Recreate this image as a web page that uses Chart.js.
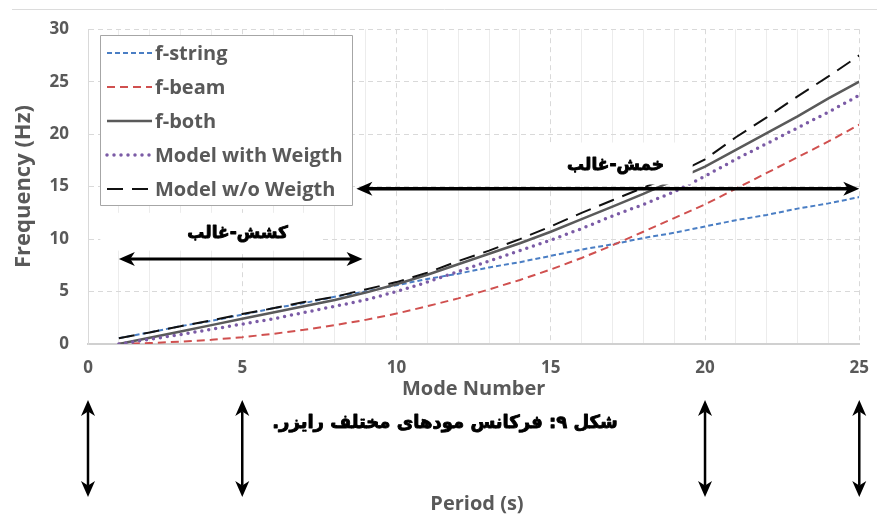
<!DOCTYPE html>
<html>
<head>
<meta charset="utf-8">
<script src="https://cdn.jsdelivr.net/npm/chart.js@4.4.1/dist/chart.umd.min.js"></script>
<style>
  html, body { margin: 0; padding: 0; background: #fff; }
</style>
</head>
<body>
<canvas id="chart" width="883" height="517"></canvas>
<script>
// mode numbers and frequencies (Hz)
const modes = [1, 2, 3, 4, 5, 6, 7, 8, 9, 10, 11, 12, 13, 14, 15, 16, 17, 18, 19, 20, 21, 22, 23, 24, 25];
const fString = [0.56, 1.1, 1.7, 2.2, 2.8, 3.4, 3.9, 4.5, 5.0, 5.6, 6.2, 6.7, 7.3, 7.8, 8.4, 9.0, 9.5, 10.1, 10.6, 11.2, 11.8, 12.3, 12.9, 13.4, 14.0];
const fBeam = [0.02, 0.09, 0.22, 0.4, 0.65, 0.97, 1.35, 1.8, 2.3, 2.9, 3.6, 4.35, 5.2, 6.1, 7.1, 8.2, 9.4, 10.7, 12.0, 13.3, 14.8, 16.3, 17.8, 19.3, 20.9];
const fBoth = [0, 0.6, 1.2, 1.8, 2.4, 3.0, 3.6, 4.2, 4.9, 5.7, 6.6, 7.6, 8.6, 9.6, 10.7, 11.9, 13.1, 14.3, 15.6, 16.9, 18.5, 20.1, 21.7, 23.4, 25.0];
const modelWith = [0, 0.45, 0.9, 1.4, 1.9, 2.4, 3.0, 3.6, 4.2, 5.0, 5.9, 6.9, 7.9, 8.9, 9.9, 11.0, 12.2, 13.3, 14.5, 16.0, 17.6, 19.1, 20.6, 22.1, 23.7];
const modelWithout = [0.55, 1.1, 1.7, 2.25, 2.85, 3.4, 4.0, 4.5, 5.2, 5.9, 6.8, 7.9, 8.9, 10.0, 11.2, 12.5, 13.7, 14.9, 16.1, 17.6, 19.7, 21.6, 23.6, 25.5, 27.5];

const seriesNames = ['f-string', 'f-beam', 'f-both', 'Model with Weigth', 'Model w/o Weigth'];
const xTicks = [0, 5, 10, 15, 20, 25];
const yTicks = [0, 5, 10, 15, 20, 25, 30];

// annotations (in data units)
const tensionLabel = 'کشش-غالب';
const bendingLabel = 'خمش-غالب';
const caption = 'شکل ۹: فرکانس مودهای مختلف رایزر.';
const periodTitle = 'Period (s)';
const periodMarks = [0, 5, 20, 25];

const toPoints = vals => modes.map((m, i) => ({ x: m, y: vals[i] }));

const TEXT = '#595959';
const FONT = '"Open Sans"';
const PERSIAN = '"DejaVu Sans", sans-serif';

function arrowHead(ctx, x, y, ang, len, half) {
  ctx.save();
  ctx.translate(x, y);
  ctx.rotate(ang);
  ctx.beginPath();
  ctx.moveTo(0, 0);
  ctx.lineTo(-len, -half);
  ctx.lineTo(-len * 0.72, 0);
  ctx.lineTo(-len, half);
  ctx.closePath();
  ctx.fill();
  ctx.restore();
}

function doubleArrow(ctx, x1, y1, x2, y2, lw) {
  const ang = Math.atan2(y2 - y1, x2 - x1);
  const len = 16, half = 7;
  const dx = Math.cos(ang) * len * 0.7, dy = Math.sin(ang) * len * 0.7;
  ctx.lineWidth = lw;
  ctx.beginPath();
  ctx.moveTo(x1 + dx, y1 + dy);
  ctx.lineTo(x2 - dx, y2 - dy);
  ctx.stroke();
  arrowHead(ctx, x2, y2, ang, len, half);
  arrowHead(ctx, x1, y1, ang + Math.PI, len, half);
}

// heavy persian text: fill plus a thin stroke
function boldText(ctx, text, x, y) {
  ctx.lineWidth = 0.9;
  ctx.lineJoin = 'round';
  ctx.fillText(text, x, y);
  ctx.strokeText(text, x, y);
}

const overlay = {
  id: 'overlay',
  afterDatasetsDraw(chart) {
    const { ctx, scales: { x, y } } = chart;
    ctx.save();

    // white text boxes (they hide the lines behind them, as in the original)
    ctx.fillStyle = '#fff';
    const box = (x0, x1, y0, y1) => {
      const px0 = x.getPixelForValue(x0), px1 = x.getPixelForValue(x1);
      const py0 = y.getPixelForValue(y1), py1 = y.getPixelForValue(y0);
      ctx.fillRect(px0, py0, px1 - px0, py1 - py0);
    };
    box(0.4, 7.5, 8.9, 12.5);
    box(14.8, 19.6, 15.2, 19.2);

    // arrows
    ctx.fillStyle = '#000';
    ctx.strokeStyle = '#000';
    doubleArrow(ctx, x.getPixelForValue(1.0), y.getPixelForValue(8.1), x.getPixelForValue(8.9), y.getPixelForValue(8.1), 3);
    doubleArrow(ctx, x.getPixelForValue(8.7), y.getPixelForValue(14.8), x.getPixelForValue(25), y.getPixelForValue(14.8), 3.5);

    ctx.font = 'bold 17px ' + PERSIAN;
    ctx.direction = 'rtl';
    ctx.textAlign = 'center';
    ctx.textBaseline = 'middle';
    boldText(ctx, tensionLabel, x.getPixelForValue(4.85), y.getPixelForValue(10.5));
    boldText(ctx, bendingLabel, x.getPixelForValue(17.1), y.getPixelForValue(17.0));

    // legend
    const lx = 100, ly = 35, lw = 252, lh = 170;
    ctx.direction = 'ltr';
    ctx.fillStyle = '#fff';
    ctx.fillRect(lx, ly, lw, lh);
    ctx.strokeStyle = '#a6a6a6';
    ctx.lineWidth = 1;
    ctx.strokeRect(lx + 0.5, ly + 0.5, lw, lh);
    ctx.font = 'bold 20px ' + FONT;
    ctx.textAlign = 'left';
    chart.data.datasets.forEach((ds, i) => {
      const ry = 53 + i * 34;
      ctx.save();
      ctx.strokeStyle = ds.borderColor;
      ctx.lineWidth = ds.borderWidth;
      ctx.setLineDash(ds.borderDash || []);
      ctx.lineCap = ds.borderCapStyle || 'butt';
      ctx.beginPath();
      ctx.moveTo(107, ry);
      ctx.lineTo(152, ry);
      ctx.stroke();
      ctx.restore();
      ctx.fillStyle = TEXT;
      ctx.fillText(ds.label, 155, ry + 1);
    });
    ctx.restore();
  },
  afterDraw(chart) {
    const { ctx, scales: { x } } = chart;
    ctx.save();
    // thin frame line at the very top
    ctx.strokeStyle = '#dcdcdc';
    ctx.lineWidth = 1;
    ctx.beginPath();
    ctx.moveTo(12, 9.5);
    ctx.lineTo(877, 9.5);
    ctx.stroke();

    ctx.fillStyle = '#000';
    ctx.strokeStyle = '#000';
    periodMarks.forEach(v => {
      const px = x.getPixelForValue(v);
      doubleArrow(ctx, px, 400, px, 497, 2.5);
    });

    ctx.font = 'bold 18px ' + PERSIAN;
    ctx.direction = 'rtl';
    ctx.textAlign = 'center';
    ctx.textBaseline = 'middle';
    boldText(ctx, caption, 445, 423);

    ctx.direction = 'ltr';
    ctx.font = 'bold 20px ' + FONT;
    ctx.fillStyle = TEXT;
    ctx.fillText(periodTitle, 477, 504);
    ctx.restore();
  }
};

Chart.defaults.font.family = FONT;
Chart.defaults.color = TEXT;

new Chart(document.getElementById('chart'), {
  type: 'line',
  data: {
    datasets: [
      { label: seriesNames[0], data: toPoints(fString), borderColor: '#4a7ec4', borderWidth: 2, borderDash: [5, 3], order: 5 },
      { label: seriesNames[1], data: toPoints(fBeam), borderColor: '#d0504f', borderWidth: 2, borderDash: [8, 5], order: 4 },
      { label: seriesNames[2], data: toPoints(fBoth), borderColor: '#5a5a5a', borderWidth: 2.5, order: 3 },
      { label: seriesNames[3], data: toPoints(modelWith), borderColor: '#7b5ba6', borderWidth: 3.5, borderDash: [0, 7], borderCapStyle: 'round', order: 2 },
      { label: seriesNames[4], data: toPoints(modelWithout), borderColor: '#111111', borderWidth: 2, borderDash: [16, 9], order: 1 }
    ]
  },
  options: {
    responsive: false,
    animation: false,
    events: [],
    layout: { padding: { left: 0, right: 23, top: 26, bottom: 116 } },
    elements: { point: { radius: 0 }, line: { tension: 0, fill: false } },
    plugins: { legend: { display: false }, tooltip: { enabled: false } },
    scales: {
      x: {
        type: 'linear',
        min: 0,
        max: 25,
        afterBuildTicks: s => { s.ticks = xTicks.map(v => ({ value: v })); },
        afterFit: s => { s.height = 57; },
        ticks: { font: { size: 17, weight: 'bold' }, padding: 14, maxRotation: 0 },
        grid: { color: '#d9d9d9', lineWidth: 1, drawTicks: false },
        border: { color: '#d0d0d0', width: 2, dash: [5, 4] },
        title: { display: true, text: 'Mode Number', font: { size: 20, weight: 'bold' }, padding: 0 }
      },
      xMinor: {
        type: 'linear',
        position: 'bottom',
        min: 0,
        max: 25,
        afterBuildTicks: s => { s.ticks = modes.map(v => ({ value: v })); },
        afterFit: s => { s.height = 0; },
        ticks: { display: false },
        grid: { color: c => (c.tick && c.tick.value % 5 === 0) ? 'rgba(0,0,0,0)' : '#ececec', lineWidth: 1, drawTicks: false },
        border: { display: false }
      },
      y: {
        min: 0,
        max: 30,
        afterBuildTicks: s => { s.ticks = yTicks.map(v => ({ value: v })); },
        afterFit: s => { s.width = 88; },
        ticks: { font: { size: 17, weight: 'bold' }, padding: 19 },
        grid: { color: '#d9d9d9', lineWidth: 1, drawTicks: false },
        border: { color: '#d9d9d9', width: 1, dash: [5, 4] },
        title: { display: true, text: 'Frequency (Hz)', font: { size: 22, weight: 'bold' }, padding: { top: 11, bottom: 0 } }
      }
    }
  },
  plugins: [overlay]
});
</script>
</body>
</html>
